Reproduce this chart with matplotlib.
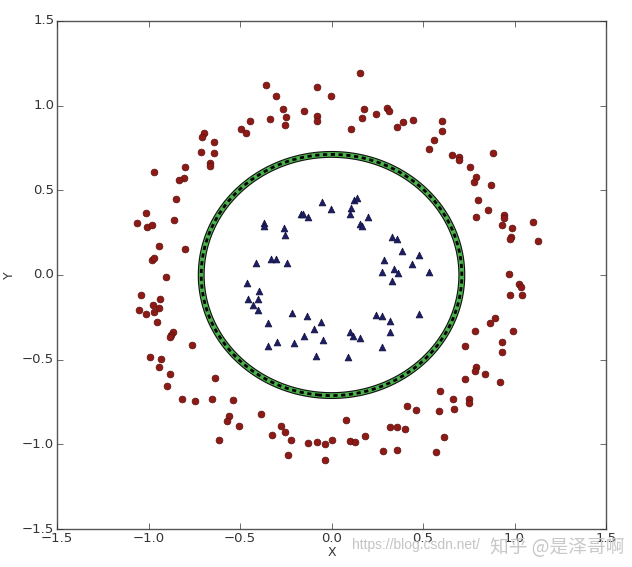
import numpy as np
import matplotlib
matplotlib.use("Agg")
import matplotlib.pyplot as plt

## outer ring points (class 0, red circles)
red_x = [-0.360, -0.305, -0.263, -0.249, -0.256, -0.334, -0.445, -0.496, -0.469, -0.150,
         -0.081, -0.004, -0.081, -0.081, -0.697, -0.708, -0.644, -0.711, -0.640, -0.666,
         -0.666, -0.800, -0.970, -0.804, -0.832, -0.851, -0.859, -1.012, -1.063, -1.010,
         -0.981, -0.944, -0.799, -0.979, -0.970, -0.906,
         0.158, 0.178, 0.169, 0.241, 0.303, 0.314, 0.389, 0.360, 0.445, 0.108,
         0.602, 0.602, 0.558, 0.533, 0.660, 0.698, 0.695, 0.881, 0.759, 0.790,
         0.781, 0.870, 0.801, 0.855, 0.791, 0.944, 0.943, 0.932, 0.985, 0.983,
         0.974, 1.101, 1.127, 0.968,
         -1.041, -0.939, -0.974, -0.941, -1.050, -0.968, -1.014, -0.954, -0.864, -0.877,
         -0.884, -0.762, -0.990, -0.930, -0.944, -0.881, -0.901, -0.637, -0.815, -0.748,
         -0.651, -0.540, -0.560, -0.569, -0.505, -0.613, -0.385, -0.276, -0.256, -0.323,
         -0.220, -0.236, -0.130, -0.081, -0.037, 0.004, -0.036,
         1.023, 1.036, 0.975, 1.043, 0.892, 0.866, 0.786, 0.993, 0.933, 0.930,
         0.728, 0.790, 0.784, 0.840, 0.728, 0.921, 0.593, 0.662, 0.750, 0.751,
         0.671, 0.586, 0.411, 0.460, 0.079, 0.101, 0.128, 0.185, 0.320, 0.356,
         0.403, 0.281, 0.360, 0.613, 0.571]
red_y = [1.120, 1.055, 0.979, 0.935, 0.888, 0.923, 0.910, 0.864, 0.837, 0.967,
         1.109, 1.055, 0.941, 0.911, 0.837, 0.817, 0.787, 0.727, 0.722, 0.663,
         0.644, 0.640, 0.607, 0.573, 0.563, 0.449, 0.327, 0.366, 0.305, 0.285,
         0.293, 0.173, 0.152, 0.089, 0.100, -0.010,
         1.195, 0.982, 0.927, 0.953, 0.984, 0.971, 0.906, 0.874, 0.916, 0.862,
         0.908, 0.852, 0.797, 0.746, 0.711, 0.697, 0.679, 0.722, 0.640, 0.577,
         0.547, 0.530, 0.445, 0.382, 0.341, 0.353, 0.337, 0.297, 0.276, 0.226,
         0.213, 0.311, 0.199, 0.008,
         -0.120, -0.142, -0.175, -0.193, -0.205, -0.219, -0.232, -0.278, -0.337, -0.354,
         -0.364, -0.412, -0.486, -0.496, -0.541, -0.583, -0.656, -0.608, -0.732, -0.744,
         -0.730, -0.736, -0.833, -0.861, -0.890, -0.973, -0.823, -0.892, -0.925, -0.943,
         -0.977, -1.063, -0.992, -0.985, -0.998, -0.973, -1.093,
         -0.053, -0.069, -0.118, -0.116, -0.256, -0.285, -0.329, -0.329, -0.398, -0.453,
         -0.419, -0.541, -0.567, -0.583, -0.612, -0.630, -0.687, -0.730, -0.730, -0.754,
         -0.793, -0.805, -0.774, -0.795, -0.858, -0.981, -0.986, -0.949, -0.898, -0.898,
         -0.911, -1.040, -1.034, -0.957, -1.044]

## inner ring points (class 1, blue triangles)
blue_x = [-0.054, -0.001, -0.167, -0.154, -0.128, -0.367, -0.367, -0.261, -0.256, -0.414,
          -0.332, -0.305, -0.243,
          0.121, 0.138, 0.108, 0.101, 0.201, 0.158, 0.169, 0.329, 0.358, 0.383,
          0.476, 0.285, 0.440, 0.278, 0.343, 0.365, 0.534,
          -0.462, -0.395, -0.458, -0.403, -0.427, -0.402, -0.349, -0.218, -0.136, -0.057,
          -0.097, -0.149, -0.045, -0.299, -0.349, -0.207, -0.085,
          0.331, 0.243, 0.278, 0.320, 0.320, 0.478, 0.101, 0.116, 0.158, 0.278, 0.088]
blue_y = [0.433, 0.390, 0.360, 0.360, 0.344, 0.305, 0.289, 0.276, 0.236, 0.073,
          0.093, 0.093, 0.069,
          0.443, 0.457, 0.394, 0.360, 0.344, 0.301, 0.289, 0.226, 0.213, 0.140,
          0.116, 0.087, 0.067, 0.018, 0.035, 0.010, 0.018,
          -0.049, -0.096, -0.144, -0.144, -0.175, -0.205, -0.282, -0.226, -0.242, -0.278,
          -0.321, -0.360, -0.386, -0.396, -0.419, -0.402, -0.477,
          -0.034, -0.236, -0.244, -0.272, -0.335, -0.228, -0.337, -0.360, -0.372, -0.423, -0.482]

## decision boundary: circle of this radius
boundary_radius = 0.712

plt.style.use('classic')
fig = plt.figure(figsize=(6.32, 5.67), dpi=100)
ax = fig.add_axes([0.0902, 0.067, 0.8687, 0.896])

xx, yy = np.meshgrid(np.linspace(-1.5, 1.5, 600), np.linspace(-1.5, 1.5, 600))
zz = xx ** 2 + yy ** 2
ax.contour(xx, yy, zz, levels=[boundary_radius ** 2], colors='#111111', linewidths=5.0)
ax.contour(xx, yy, zz, levels=[boundary_radius ** 2], colors='#4cb04c', linewidths=3.4)
cs = ax.contour(xx, yy, zz, levels=[boundary_radius ** 2], colors='black', linewidths=2.0)
cs.set_linestyle((0, (3.0, 2.6)))

ax.scatter(red_x, red_y, s=24, marker='o', c='#8e1a16', edgecolors='#5a1010', linewidths=0.5, zorder=3)
ax.scatter(blue_x, blue_y, s=24, marker='^', c='#1d1d66', edgecolors='#10103a', linewidths=0.5, zorder=3)

ax.set_xlim(-1.5, 1.5)
ax.set_ylim(-1.5, 1.5)
ax.set_xticks([-1.5, -1.0, -0.5, 0.0, 0.5, 1.0, 1.5])
ax.set_yticks([-1.5, -1.0, -0.5, 0.0, 0.5, 1.0, 1.5])
ax.tick_params(labelsize=9.5, pad=2, colors='#333333')
for sp in ax.spines.values():
    sp.set_color('#555555')
ax.set_xlabel('X', fontsize=9, labelpad=1, color='#333333')
ax.set_ylabel('Y', fontsize=9, labelpad=4, color='#333333')

## watermarks
fig.text(0.557, 0.031, 'https://blog.csdn.net/', fontsize=10, color='#c4c4c4',
         family=['Liberation Sans', 'DejaVu Sans'])
fig.text(0.775, 0.025, '知乎 @是泽哥啊', fontsize=13.5, color='#c8c8c8',
         family=['Noto Sans CJK SC', 'DejaVu Sans'])

fig.savefig('out.png', dpi=100)
